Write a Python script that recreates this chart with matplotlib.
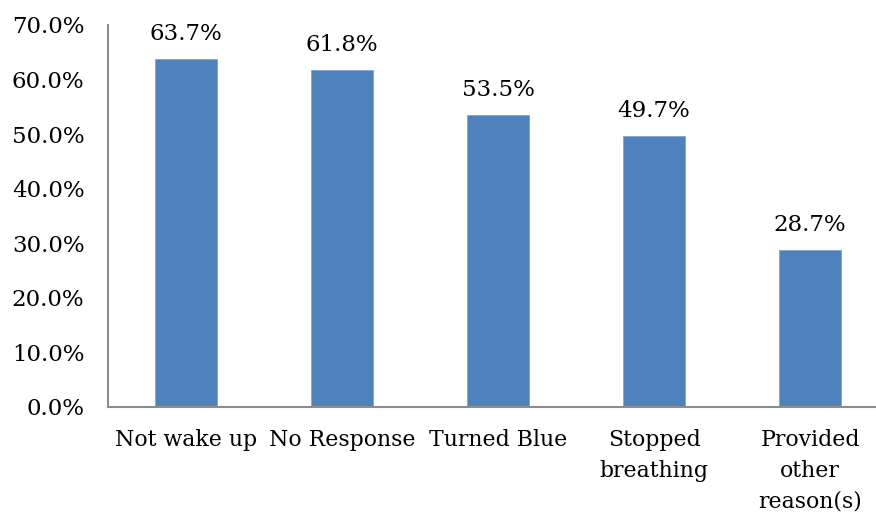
import matplotlib.pyplot as plt
from matplotlib.ticker import FuncFormatter

categories = ['Not wake up', 'No Response', 'Turned Blue', 'Stopped\nbreathing', 'Provided\nother\nreason(s)']
percentages = [63.7, 61.8, 53.5, 49.7, 28.7]
y_ticks = [0, 10, 20, 30, 40, 50, 60, 70]

plt.rcParams['font.family'] = ['DejaVu Serif']
plt.rcParams['font.size'] = 16

fig = plt.figure(figsize=(8.76, 5.17), dpi=100)
ax = fig.add_axes([0.1233, 0.2128, 0.8767, 0.7389])

x = range(len(categories))
bars = ax.bar(x, percentages, width=0.4, color='#4F81BD', edgecolor='#7FA3D1', linewidth=0.6)

# value labels over each bar
for b, v in zip(bars, percentages):
    ax.annotate(f'{v:.1f}%', (b.get_x() + b.get_width() / 2, v), xytext=(0, 10),
                textcoords='offset points', ha='center', va='bottom', fontsize=16.5)

ax.set_xlim(-0.5, 4.423)
ax.set_ylim(0, 70)
ax.set_yticks(y_ticks)
ax.yaxis.set_major_formatter(FuncFormatter(lambda v, p: f'{v:.1f}%'))
ax.set_xticks(list(x))
ax.set_xticklabels(categories, linespacing=1.5, va='top', fontsize=15.8)
ax.tick_params(axis='y', length=0, pad=17, labelsize=16.5)
ax.tick_params(axis='x', length=0, pad=16)

for side in ['top', 'right']:
    ax.spines[side].set_visible(False)
for side in ['left', 'bottom']:
    ax.spines[side].set_color('#8C8C8C')
    ax.spines[side].set_linewidth(1.5)

plt.savefig('out.png', dpi=100)
